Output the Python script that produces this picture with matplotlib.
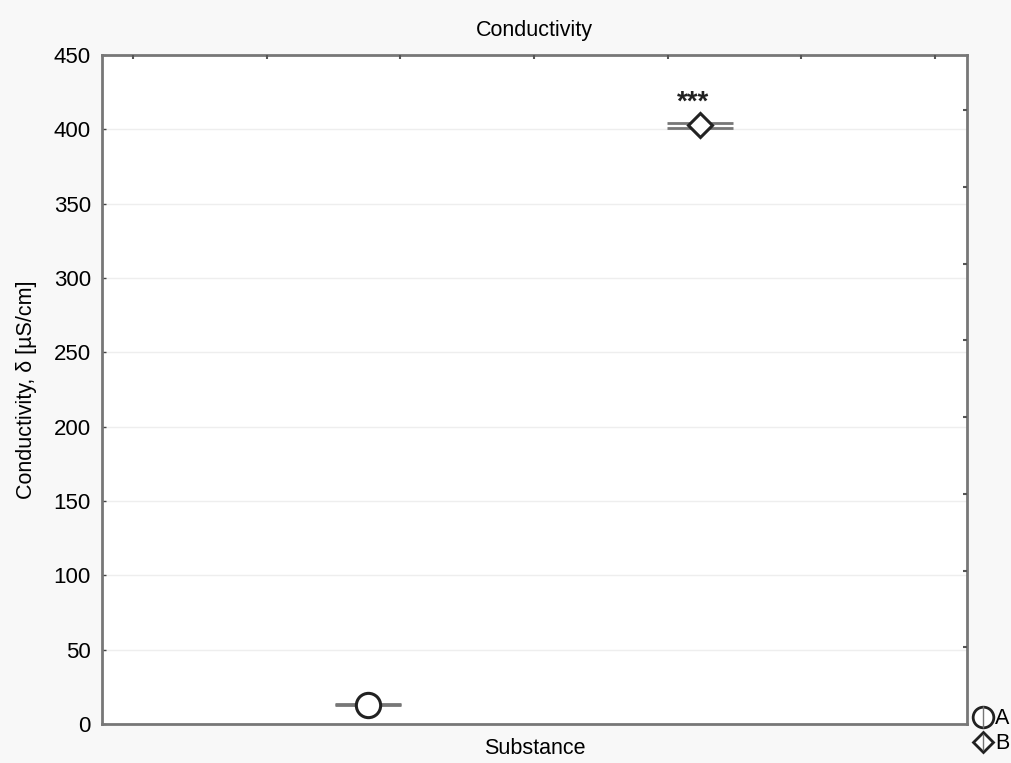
import matplotlib.pyplot as plt
from matplotlib.lines import Line2D

# mean conductivity per substance with its error half-width
substances = ["A", "B"]
means = [13.0, 402.6]
errors = [0.3, 1.7]
markers = ["o", "D"]
stars = ["", "***"]

plt.rcParams["font.family"] = ["Liberation Sans", "DejaVu Sans"]

fig = plt.figure(figsize=(10.12, 7.63), dpi=100, facecolor="#f8f8f8")
ax = fig.add_axes([0.1008, 0.0511, 0.8547, 0.8768])
ax.set_facecolor("white")

positions = list(range(len(substances)))
handles = []
for x, m, e, mk, s, name in zip(positions, means, errors, markers, stars, substances):
    ms = 17.5 if mk == "o" else 12.5
    ax.errorbar(x, m, yerr=e, fmt="none", ecolor="#777777", elinewidth=1.2,
                capsize=23.5, capthick=2, zorder=2)
    ax.plot(x, m, marker=mk, markersize=ms, markerfacecolor="white",
            markeredgecolor="#222222", markeredgewidth=2.2, linestyle="none", zorder=3)
    if s:
        ax.annotate(s, (x, m + e), xytext=(-5, 5), textcoords="offset points",
                    ha="center", va="bottom", fontsize=20, fontweight="bold", color="#222222")
    mark = Line2D([], [], marker=mk, markersize=ms * 0.85, markerfacecolor="white",
                  markeredgecolor="#222222", markeredgewidth=2, linestyle="none")
    bar = Line2D([], [], marker="|", markersize=ms * 0.9, markeredgecolor="#777777",
                 markeredgewidth=1, linestyle="none")
    handles.append((mark, bar))

ax.set_xlim(-0.801, 1.804)
ax.set_ylim(0, 450)
ax.set_yticks(range(0, 451, 50))
ax.set_xticks([])
ax.grid(axis="y", color="#eeeeee", linewidth=1)
ax.set_axisbelow(True)
ax.tick_params(axis="y", direction="in", length=3, width=1, color="#444444",
               labelsize=16, pad=8)

for sp in ax.spines.values():
    sp.set_color("#777777")
    sp.set_linewidth(2)

# extra scale ticks on the top and right frame
top = ax.twiny()
top.set_xlim(0.768, 7.24)
top.set_xticks(range(1, 8))
top.tick_params(axis="x", direction="in", length=3, width=1.5, color="#555555",
                labeltop=False)
right = ax.twinx()
right.set_ylim(0, 8.72)
right.set_yticks(range(1, 9))
right.tick_params(axis="y", direction="in", length=3, width=1.5, color="#555555",
                  labelright=False)
for t in (top, right):
    for sp in t.spines.values():
        sp.set_visible(False)

ax.set_title("Conductivity", fontsize=15.5, pad=14)
ax.set_xlabel("Substance", fontsize=15.5, labelpad=10)
ax.set_ylabel("Conductivity, \u03b4 [\u00b5S/cm]", fontsize=15.5, labelpad=12)

fig.legend(handles=handles, labels=substances, loc="upper left",
           bbox_to_anchor=(0.963, 0.072), frameon=False, fontsize=15.5,
           handlelength=0.8, handletextpad=0.15, labelspacing=0.2,
           borderpad=0, borderaxespad=0)

fig.savefig("out.png", dpi=100, facecolor=fig.get_facecolor())
